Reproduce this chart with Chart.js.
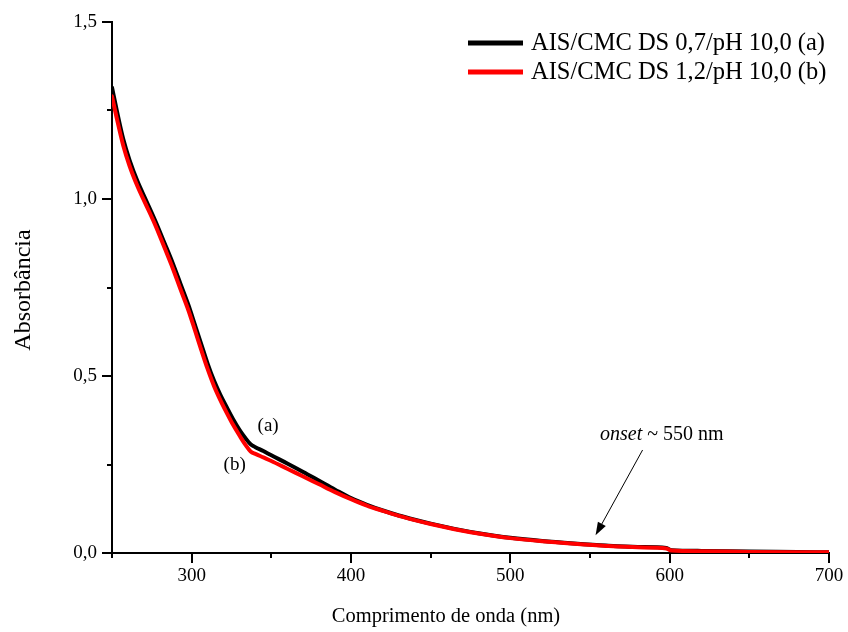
<!DOCTYPE html>
<html>
<head>
<meta charset="utf-8">
<script src="https://cdn.jsdelivr.net/npm/chart.js@4.4.0/dist/chart.umd.min.js"></script>
<style>
  body { margin: 0; background: #fff; }
  #wrap { width: 848px; height: 632px; }
</style>
</head>
<body>
<div id="wrap"><canvas id="chart-uv"></canvas></div>
<script>
// comprimento de onda (nm)
var wavelengths = [250, 253, 257, 261, 266, 271, 277, 283, 288, 293,
    298, 302, 306, 310, 314, 318, 322, 326, 330, 334,
    337, 340, 345, 350, 360, 370, 380, 390, 400, 410,
    420, 430, 440, 450, 460, 470, 480, 490, 500, 520,
    540, 560, 580, 598, 601, 620, 650, 680, 700];
// (a) AIS/CMC DS 0,7/pH 10,0
var absA = [1.315, 1.25, 1.17, 1.11, 1.05, 1.00, 0.94, 0.875, 0.82, 0.76,
    0.70, 0.645, 0.59, 0.535, 0.487, 0.447, 0.412, 0.378, 0.348, 0.323,
    0.307, 0.299, 0.288, 0.276, 0.253, 0.229, 0.204, 0.179, 0.155, 0.136,
    0.12, 0.106, 0.094, 0.083, 0.073, 0.064, 0.056, 0.049, 0.043, 0.034,
    0.027, 0.021, 0.017, 0.014, 0.008, 0.006, 0.004, 0.003, 0.002];
// (b) AIS/CMC DS 1,2/pH 10,0
var absB = [1.29, 1.228, 1.152, 1.094, 1.036, 0.987, 0.928, 0.862, 0.806, 0.745,
    0.685, 0.63, 0.574, 0.52, 0.472, 0.432, 0.396, 0.362, 0.332, 0.304,
    0.287, 0.28, 0.27, 0.26, 0.238, 0.216, 0.194, 0.172, 0.152, 0.134,
    0.119, 0.105, 0.093, 0.082, 0.072, 0.063, 0.055, 0.048, 0.042, 0.033,
    0.026, 0.02, 0.016, 0.013, 0.007, 0.005, 0.003, 0.002, 0.002];

var seriesLabels = ['AIS/CMC DS 0,7/pH 10,0 (a)', 'AIS/CMC DS 1,2/pH 10,0 (b)'];
var xMajor = [300, 400, 500, 600, 700];
var xMinor = [250, 350, 450, 550, 650];
var yMajor = [0, 0.5, 1.0, 1.5];
var yMinor = [0.25, 0.75, 1.25];

var serif = '"Liberation Serif", "Times New Roman", serif';

function pts(ys) {
    return wavelengths.map(function (x, i) { return { x: x, y: ys[i] }; });
}

// ticks, titles, legend and notes
var extras = {
    id: 'extras',
    afterDraw: function (chart) {
        var c = chart.ctx;
        var xs = chart.scales.x, ys = chart.scales.y;
        var area = chart.chartArea;
        c.save();
        c.strokeStyle = '#000';
        c.lineWidth = 2;
        c.beginPath();
        xMajor.forEach(function (v) {
            var px = Math.round(xs.getPixelForValue(v));
            c.moveTo(px, area.bottom); c.lineTo(px, area.bottom + 10);
        });
        xMinor.forEach(function (v) {
            var px = Math.round(xs.getPixelForValue(v));
            c.moveTo(px, area.bottom); c.lineTo(px, area.bottom + 5);
        });
        yMajor.forEach(function (v) {
            var py = Math.round(ys.getPixelForValue(v));
            c.moveTo(area.left, py); c.lineTo(area.left - 10, py);
        });
        yMinor.forEach(function (v) {
            var py = Math.round(ys.getPixelForValue(v));
            c.moveTo(area.left, py); c.lineTo(area.left - 5, py);
        });
        c.stroke();

        c.fillStyle = '#000';
        c.textBaseline = 'middle';
        c.textAlign = 'center';
        c.font = '20.5px ' + serif;
        c.fillText('Comprimento de onda (nm)', 446, 617);
        c.save();
        c.translate(24, 290);
        c.rotate(-Math.PI / 2);
        c.font = '24px ' + serif;
        c.fillText('Absorbância', 0, 0);
        c.restore();

        // legenda
        var colors = ['#000', '#ff0000'];
        c.textAlign = 'left';
        c.font = '24.5px ' + serif;
        [43, 72].forEach(function (y, i) {
            c.fillStyle = colors[i];
            c.fillRect(468, y - 2.5, 55, 5);
            c.fillStyle = '#000';
            c.fillText(seriesLabels[i], 531, y + 1);
        });

        // anotações
        c.font = '19px ' + serif;
        c.textAlign = 'center';
        c.fillText('(a)', xs.getPixelForValue(348), ys.getPixelForValue(0.36));
        c.fillText('(b)', xs.getPixelForValue(327), ys.getPixelForValue(0.248));

        var tx = 600, ty = ys.getPixelForValue(0.335);
        c.textAlign = 'left';
        c.font = 'italic 20px ' + serif;
        c.fillText('onset', tx, ty);
        var w = c.measureText('onset').width;
        c.font = '20px ' + serif;
        c.fillText(' ~ 550 nm', tx + w, ty);

        var x0 = xs.getPixelForValue(583), y0 = ys.getPixelForValue(0.291);
        var x1 = xs.getPixelForValue(553.5), y1 = ys.getPixelForValue(0.05);
        var ang = Math.atan2(y1 - y0, x1 - x0);
        c.lineWidth = 1;
        c.beginPath();
        c.moveTo(x0, y0);
        c.lineTo(x1 - 8 * Math.cos(ang), y1 - 8 * Math.sin(ang));
        c.stroke();
        c.beginPath();
        c.moveTo(x1, y1);
        c.lineTo(x1 - 13 * Math.cos(ang) + 4.5 * Math.sin(ang), y1 - 13 * Math.sin(ang) - 4.5 * Math.cos(ang));
        c.lineTo(x1 - 13 * Math.cos(ang) - 4.5 * Math.sin(ang), y1 - 13 * Math.sin(ang) + 4.5 * Math.cos(ang));
        c.closePath();
        c.fill();
        c.restore();
    }
};

var ctxUv = document.getElementById('chart-uv').getContext('2d');
var chartUv = new Chart(ctxUv, {
    type: 'line',
    data: {
        datasets: [{
            label: seriesLabels[0],
            data: pts(absA),
            borderColor: '#000',
            borderWidth: 4,
            order: 2
        }, {
            label: seriesLabels[1],
            data: pts(absB),
            borderColor: '#ff0000',
            borderWidth: 4,
            order: 1
        }]
    },
    options: {
        responsive: true,
        maintainAspectRatio: false,
        animation: false,
        layout: { padding: { left: 0, top: 22, right: 19, bottom: 0 } },
        elements: {
            point: { radius: 0 },
            line: { cubicInterpolationMode: 'monotone', borderCapStyle: 'round', borderJoinStyle: 'round' }
        },
        plugins: {
            legend: { display: false },
            tooltip: { enabled: false }
        },
        scales: {
            x: {
                type: 'linear',
                min: 250,
                max: 700,
                grid: { display: false, drawTicks: false },
                border: { display: true, color: '#000', width: 2 },
                afterBuildTicks: function (s) {
                    s.ticks = xMajor.map(function (v) { return { value: v }; });
                },
                afterFit: function (s) {
                    s.height = 79;
                    s.paddingLeft = 0;
                    s.paddingRight = 0;
                },
                ticks: {
                    color: '#000',
                    padding: 12,
                    maxRotation: 0,
                    font: { family: serif, size: 19 }
                }
            },
            y: {
                type: 'linear',
                min: 0,
                max: 1.5,
                grid: { display: false, drawTicks: false },
                border: { display: true, color: '#000', width: 2 },
                afterBuildTicks: function (s) {
                    s.ticks = yMajor.map(function (v) { return { value: v }; });
                },
                afterFit: function (s) {
                    s.width = 112;
                    s.paddingTop = 0;
                    s.paddingBottom = 0;
                },
                ticks: {
                    color: '#000',
                    padding: 15,
                    font: { family: serif, size: 19 },
                    callback: function (v) { return v.toFixed(1).replace('.', ','); }
                }
            }
        }
    },
    plugins: [extras]
});
</script>
</body>
</html>
